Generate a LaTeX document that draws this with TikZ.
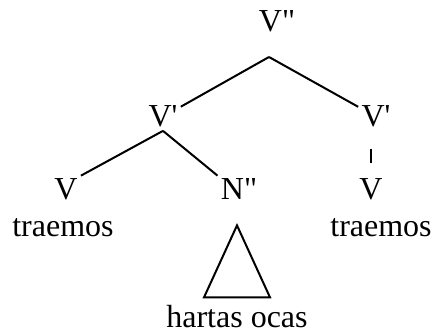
\documentclass[tikz,border=0pt]{standalone}
\usepackage{fontspec}
\setmainfont{Liberation Serif}[Ligatures=TeXOff]
\definecolor{treeink}{RGB}{0,0,0}
\begin{document}
\begin{tikzpicture}[x=0.5pt,y=-0.5pt]
  \tikzset{cat/.style={font=\fontsize{16}{19}\selectfont,color=treeink,inner sep=1.5pt,anchor=base},
           branch/.style={treeink,line width=1pt}}
  \useasboundingbox (0,0) rectangle (433,335);
  \node[cat] (vpp) at (277,32) {V"};
  \node[cat] (vpl) at (163,127) {V'};
  \node[cat] (vpr) at (376,127) {V'};
  \node[cat] (vl) at (66,200) {V};
  \node[cat] (npp) at (239,200) {N"};
  \node[cat] (vr) at (371,200) {V};
  \node[cat] (wl) at (63,237) {traemos};
  \node[cat] (wr) at (381,237) {traemos};
  \node[cat] (wn) at (237,328) {hartas ocas};
  \coordinate (top) at (269,57);
  \draw[branch] (top) -- (vpl);
  \draw[branch] (top) -- (vpr);
  \draw[branch] (vpl.south) -- (vl.north east);
  \draw[branch] (vpl.south) -- (npp.north west);
  \draw[branch,shorten <=9pt,shorten >=6.5pt] (vr.north |- vpr.south) -- (vr.north);
  \draw[branch] (npp.south) ++(-2,22) coordinate (tri) -- ++(-33,72) -- ++(66,0) -- cycle;
\end{tikzpicture}
\end{document}
